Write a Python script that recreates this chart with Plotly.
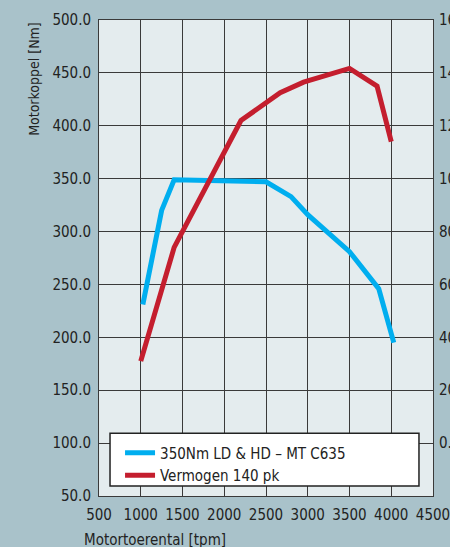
import plotly.graph_objects as go

# Data
torque_rpm = [1025, 1250, 1400, 2500, 2800, 3000, 3500, 3850, 4030]
torque_nm = [231, 320, 349, 347, 333, 316, 281, 246, 195]

power_rpm = [1000, 1400, 2200, 2500, 2670, 2950, 3500, 3830, 4000]
power_pk = [31, 74, 122, 128.5, 132.5, 136.5, 141.7, 135, 114]

x_ticks = [500, 1000, 1500, 2000, 2500, 3000, 3500, 4000, 4500]
y_ticks = [50, 100, 150, 200, 250, 300, 350, 400, 450, 500]
y2_ticks = [0, 20, 40, 60, 80, 100, 120, 140, 160]

FONT = "DejaVu Sans Condensed"
TXT = "#222222"
GRID = "#3a3a3a"

fig = go.Figure()
fig.add_trace(go.Scatter(x=torque_rpm, y=torque_nm, mode="lines",
                         name="350Nm LD & HD \u2013 MT C635",
                         line=dict(color="#00aeef", width=5),
                         yaxis="y"))
fig.add_trace(go.Scatter(x=power_rpm, y=power_pk, mode="lines",
                         name="Vermogen 140 pk",
                         line=dict(color="#c41e2e", width=5),
                         yaxis="y2"))

fig.update_layout(
    width=450, height=547,
    margin=dict(l=99, r=17, t=20, b=51, autoexpand=False),
    paper_bgcolor="#a9c2ca",
    plot_bgcolor="#e4ecee",
    font=dict(family=FONT, size=15, color=TXT),
    showlegend=True,
    legend=dict(x=0.063, y=0.125, xanchor="left", yanchor="top",
                bgcolor="rgba(0,0,0,0)", borderwidth=0,
                font=dict(family=FONT, size=15, color=TXT),
                tracegroupgap=0, itemwidth=30),
    xaxis=dict(range=[500, 4500], tickvals=x_ticks, showgrid=True,
               gridcolor=GRID, gridwidth=1, showline=True, linecolor=GRID,
               linewidth=1, mirror=True, ticks="", zeroline=False,
               automargin=False, ticklabeloverflow="allow",
               ticklabelstandoff=5, tickfont=dict(size=15)),
    yaxis=dict(range=[50, 500], tickvals=y_ticks, tickformat=".1f",
               showgrid=True, gridcolor=GRID, gridwidth=1, showline=True,
               linecolor=GRID, linewidth=1, mirror=True, ticks="",
               zeroline=False, automargin=False, ticklabeloverflow="allow",
               ticklabelstandoff=4, tickfont=dict(size=15)),
    yaxis2=dict(range=[-20, 160], tickvals=y2_ticks, overlaying="y",
                side="right", showgrid=False, showline=False, ticks="",
                zeroline=False, tickformat=".1f", automargin=False,
                ticklabeloverflow="allow", ticklabelstandoff=5,
                tickfont=dict(size=15)),
    shapes=[dict(type="rect", xref="paper", yref="paper",
                 x0=0.033, x1=0.958, y0=0.021, y1=0.132,
                 fillcolor="white", line=dict(color="#222222", width=1.5),
                 layer="above")],
    annotations=[
        dict(text="Motorkoppel [Nm]", xref="paper", yref="paper",
             x=-0.195, y=1.0, xanchor="center", yanchor="top",
             textangle=-90, showarrow=False, font=dict(size=14, color=TXT)),
        dict(text="Motortoerental [tpm]", xref="paper", yref="paper",
             x=-0.05, y=-0.07, xanchor="left", yanchor="top",
             showarrow=False, font=dict(size=15, color=TXT)),
    ],
)

fig.write_html("out.html", config={"displayModeBar": False},
               post_script="document.body.style.margin='0';document.body.style.overflow='hidden';")
